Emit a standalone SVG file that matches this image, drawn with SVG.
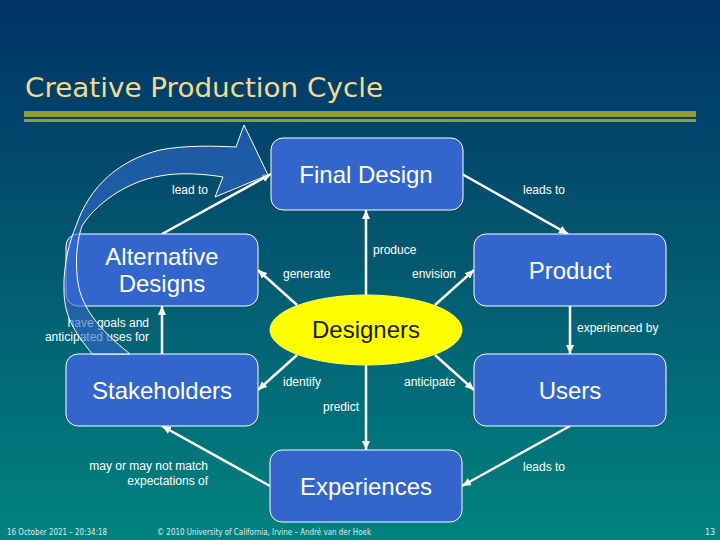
<svg xmlns="http://www.w3.org/2000/svg" width="720" height="540" viewBox="0 0 720 540">
<defs>
<linearGradient id="bg" x1="0" y1="0" x2="0" y2="1">
<stop offset="0" stop-color="#003366"/>
<stop offset="0.5" stop-color="#035a70"/>
<stop offset="1" stop-color="#008380"/>
</linearGradient>
<marker id="ah" markerUnits="userSpaceOnUse" markerWidth="10" markerHeight="8" refX="9" refY="4" orient="auto">
<path d="M0,0 L9,4 L0,8 Z" fill="#ffffff"/>
</marker>
<style>
.box{fill:#3366cc;stroke:#ffffff;stroke-width:1}
.nl{font-family:"Liberation Sans",Arial,sans-serif;font-size:24px;fill:#ffffff;text-anchor:middle}
.el{font-family:"Liberation Sans",Arial,sans-serif;font-size:12px;fill:#ffffff}
.cn{stroke:#ffffff;stroke-width:2.5;fill:none;marker-end:url(#ah)}
.ft{font-family:"DejaVu Sans",Verdana,sans-serif;font-size:8px;fill:#d8f0f0}
</style>
</defs>
<rect x="0" y="0" width="720" height="540" fill="url(#bg)"/>
<text x="25" y="97" font-family="'DejaVu Sans',Verdana,sans-serif" font-size="26" fill="#f3da8f" textLength="358" lengthAdjust="spacingAndGlyphs">Creative Production Cycle</text>
<rect x="24" y="111" width="672" height="6" fill="#999933"/>
<rect x="24" y="119" width="672" height="3" fill="#999933"/>

<g id="connectors">
<line class="cn" x1="162" y1="234" x2="271" y2="174"/>
<line class="cn" x1="462" y1="174" x2="568" y2="234"/>
<line class="cn" x1="366" y1="295" x2="366" y2="210"/>
<line class="cn" x1="297" y1="305" x2="258" y2="270"/>
<line class="cn" x1="435" y1="305" x2="474" y2="270"/>
<line class="cn" x1="570" y1="306" x2="570" y2="354"/>
<line class="cn" x1="162" y1="354" x2="162" y2="306"/>
<line class="cn" x1="297" y1="355" x2="258" y2="390"/>
<line class="cn" x1="435" y1="355" x2="474" y2="390"/>
<line class="cn" x1="366" y1="365" x2="366" y2="450"/>
<line class="cn" x1="270" y1="486" x2="162" y2="426"/>
<line class="cn" x1="570" y1="426" x2="462" y2="486"/>
<text class="el" x="190" y="194" text-anchor="middle">lead to</text>
<text class="el" x="544" y="194" text-anchor="middle">leads to</text>
<text class="el" x="373" y="254">produce</text>
<text class="el" x="283" y="278">generate</text>
<text class="el" x="412" y="278">envision</text>
<text class="el" x="577" y="332">experienced by</text>
<text class="el" x="149" y="327" text-anchor="end">have goals and</text>
<text class="el" x="149" y="341" text-anchor="end">anticipated uses for</text>
<text class="el" x="283" y="386">identify</text>
<text class="el" x="404" y="386">anticipate</text>
<text class="el" x="323" y="411">predict</text>
<text class="el" x="208" y="470" text-anchor="end">may or may not match</text>
<text class="el" x="208" y="485" text-anchor="end">expectations of</text>
<text class="el" x="523" y="471">leads to</text>
</g>

<g id="final-design">
<rect class="box" x="271" y="138" width="192" height="72" rx="12"/>
<text class="nl" x="366" y="183">Final Design</text>
</g>
<g id="alternative-designs">
<rect class="box" x="66" y="234" width="192" height="72" rx="12"/>
<text class="nl" x="162" y="265">Alternative</text>
<text class="nl" x="162" y="292">Designs</text>
</g>
<g id="product">
<rect class="box" x="474" y="234" width="192" height="72" rx="12"/>
<text class="nl" x="570" y="279">Product</text>
</g>
<g id="designers">
<ellipse cx="366" cy="330" rx="96" ry="35" fill="#ffff00" stroke="#ffff66" stroke-width="1"/>
<text class="nl" x="366" y="338" style="fill:#1a1a1a">Designers</text>
</g>
<g id="stakeholders">
<rect class="box" x="66" y="354" width="192" height="72" rx="12"/>
<text class="nl" x="162" y="399">Stakeholders</text>
</g>
<g id="users">
<rect class="box" x="474" y="354" width="192" height="72" rx="12"/>
<text class="nl" x="570" y="399">Users</text>
</g>
<g id="experiences">
<rect class="box" x="270" y="450" width="192" height="72" rx="12"/>
<text class="nl" x="366" y="495">Experiences</text>
</g>

<g id="curved-arrow">
<path d="M92,354 C78,335 64,320 64,290 C63,265 70,240 76,226 C90,185 120,160 160,150 C185,145 215,146 236,147 L244,125 L268,175 L215,197 L223,177 C205,174 180,172 160,176 C125,182 95,205 82,226 C75,245 75,275 80,292 C88,318 110,338 130,354 Z" fill="#3366cc" fill-opacity="0.6" stroke="#ffffff" stroke-width="1"/>
</g>

<text class="ft" x="7" y="535" textLength="100" lengthAdjust="spacingAndGlyphs">16 October 2021 – 20:34:18</text>
<text class="ft" x="157" y="535" textLength="214" lengthAdjust="spacingAndGlyphs">© 2010 University of California, Irvine – André van der Hoek</text>
<text class="ft" x="705" y="535">13</text>
</svg>
